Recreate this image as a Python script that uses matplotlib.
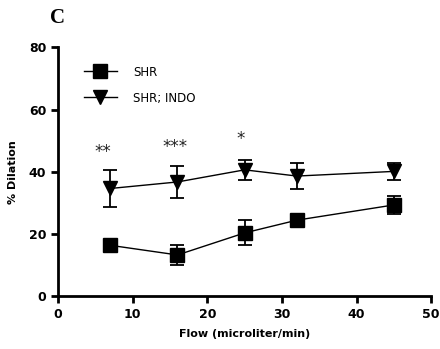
import matplotlib.pyplot as plt
from matplotlib.lines import Line2D

# data
flow = [7, 16, 25, 32, 45]
shr = [16.3, 13.2, 20.3, 24.4, 29.3]
shr_err = [0.0, 3.3, 4.0, 0.0, 3.0]
indo = [34.6, 36.7, 40.6, 38.6, 40.1]
indo_err = [6.0, 5.1, 3.3, 4.1, 2.8]

stars = ['**', '***', '*']
star_x = [6.0, 15.7, 24.4]
star_y = [46.5, 48.0, 50.5]

fig = plt.figure(figsize=(4.4, 3.49), dpi=100)
ax = fig.add_axes([0.132, 0.152, 0.848, 0.712])

ax.errorbar(flow, shr, yerr=shr_err, color='black', marker='s', markersize=9.5,
            linewidth=1, capsize=5, capthick=1.3, elinewidth=1.3)
ax.errorbar(flow, indo, yerr=indo_err, color='black', marker='v', markersize=9.5,
            linewidth=1, capsize=5, capthick=1.3, elinewidth=1.3)

for s, x, y in zip(stars, star_x, star_y):
    ax.text(x, y, s, ha='center', va='center', fontsize=12, color='#222222')

ax.set_xlim(0, 50)
ax.set_ylim(0, 80)
ax.set_xticks([0, 10, 20, 30, 40, 50])
ax.set_yticks([0, 20, 40, 60, 80])
ax.spines['top'].set_visible(False)
ax.spines['right'].set_visible(False)
for sp in ['left', 'bottom']:
    ax.spines[sp].set_linewidth(2)
ax.tick_params(width=2, length=5, labelsize=9)
for lbl in ax.get_xticklabels() + ax.get_yticklabels():
    lbl.set_fontweight('bold')
ax.set_xlabel('Flow (microliter/min)', fontsize=8, fontweight='bold', labelpad=6)
ax.set_ylabel('% Dilation', fontsize=8, fontweight='bold', labelpad=8)

handles = [Line2D([], [], color='black', marker='s', markersize=9.5, linewidth=1),
           Line2D([], [], color='black', marker='v', markersize=9.5, linewidth=1)]
ax.legend(handles, ['SHR', 'SHR; INDO'], loc='upper left', bbox_to_anchor=(0.04, 0.97),
          frameon=False, fontsize=8.5, handlelength=2.8, handletextpad=1.4,
          labelspacing=1.1)

fig.text(0.113, 0.935, 'C', fontsize=15, fontweight='bold', family='Liberation Serif')

fig.savefig('out.png', dpi=100)
